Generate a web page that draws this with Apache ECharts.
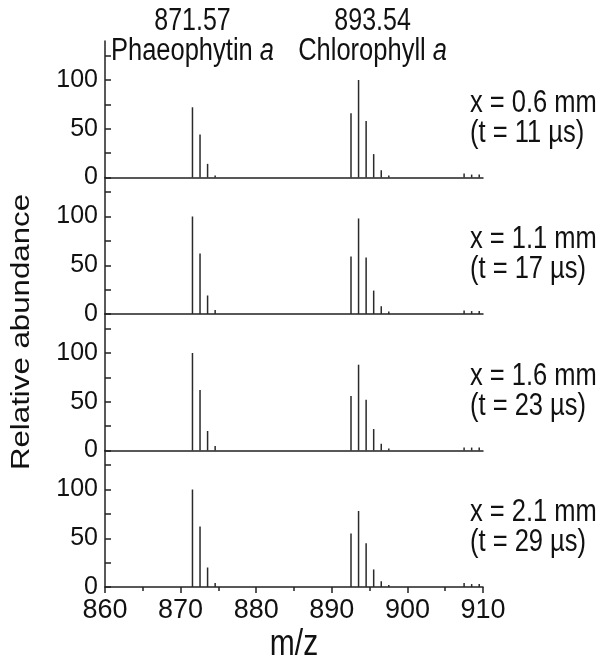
<!DOCTYPE html>
<html>
<head>
<meta charset="utf-8">
<script src="https://cdn.jsdelivr.net/npm/echarts@6/dist/echarts.min.js"></script>
<style>html,body{margin:0;padding:0;background:#fff}#c{width:604px;height:667px}</style>
</head>
<body>
<div id="c"></div>
<script>
// m/z positions of the sticks
const mz = [871.57, 872.57, 873.57, 874.57, 892.54, 893.54, 894.54, 895.54, 896.54, 897.54, 907.5, 908.5, 909.5];
// relative abundance per panel
const panel1 = [72, 44, 14, 2, 66, 100, 58, 24, 7.5, 2, 4, 3, 3];
const panel2 = [100, 62, 19, 4, 59, 98, 58, 24, 8, 2.5, 3.5, 3, 3];
const panel3 = [100, 62, 20, 4.5, 56, 88, 52, 22, 7, 2, 3, 3, 3];
const panel4 = [100, 62, 20, 4, 55, 78, 45, 18, 6, 2, 4, 3, 3];
const panels = [panel1, panel2, panel3, panel4];
const panelLabels = [
  ['x = 0.6 mm', '(t = 11 µs)'],
  ['x = 1.1 mm', '(t = 17 µs)'],
  ['x = 1.6 mm', '(t = 23 µs)'],
  ['x = 2.1 mm', '(t = 29 µs)']
];
const xTicks = [860, 870, 880, 890, 900, 910];
const yTicks = [0, 50, 100];
const yAllTicks = [0, 25, 50, 75, 100, 125];
const peakLabels = [
  { mz: 871.57, name: 'Phaeophytin' },
  { mz: 893.54, name: 'Chlorophyll' }
];

const FONT = 'Liberation Sans, Arial, sans-serif';
const STRETCH = 1.25;
const chart = echarts.init(document.getElementById('c'));

const tops = [41, 177.5, 314, 450.5];
const H = 136.5;
const LEFT = 105, WIDTH = 378;

const grids = [], xAxes = [], yAxes = [], series = [], graphics = [];
panels.forEach((vals, i) => {
  const last = i === panels.length - 1;
  grids.push({ left: LEFT, width: WIDTH, top: tops[i], height: H });
  xAxes.push({
    type: 'value', gridIndex: i, min: 860, max: 910, interval: 10,
    axisLine: { show: true, onZero: false, lineStyle: { color: '#222', width: 1.5 } },
    axisTick: { show: last, inside: false, length: 6, lineStyle: { color: '#222', width: 1.5 } },
    minorTick: { show: last, splitNumber: 2, length: 4, lineStyle: { color: '#222', width: 1.5 } },
    axisLabel: { show: last, fontFamily: FONT, fontSize: 27, color: '#111', margin: 10,
      customValues: xTicks },
    splitLine: { show: false }
  });
  yAxes.push({
    type: 'value', gridIndex: i, min: 0, max: 140, position: 'left',
    axisLine: { show: true, onZero: false, lineStyle: { color: '#222', width: 1.5 } },
    axisTick: { show: true, inside: true, length: 6, customValues: yAllTicks, lineStyle: { color: '#222', width: 1.5 } },
    axisLabel: { fontFamily: FONT, fontSize: 25, color: '#111', margin: 7, customValues: yTicks },
    splitLine: { show: false }
  });
  series.push({
    type: 'bar', xAxisIndex: i, yAxisIndex: i, barWidth: 1.5,
    itemStyle: { color: '#2a2a2a' }, silent: true, animation: false,
    data: mz.map((m, k) => [m, vals[k]])
  });
  const midY = tops[i] + H * 0.49;
  graphics.push({ type: 'text', x: 470, y: midY - 5, scaleY: STRETCH,
    style: { text: panelLabels[i][0], font: '25.5px ' + FONT, fill: '#111', verticalAlign: 'middle' } });
  graphics.push({ type: 'text', x: 470, y: midY + 25, scaleY: STRETCH,
    style: { text: panelLabels[i][1], font: '25.5px ' + FONT, fill: '#111', verticalAlign: 'middle' } });
});

graphics.push({ type: 'text', x: 22, y: 332, rotation: Math.PI / 2, scaleX: STRETCH,
  style: { text: 'Relative abundance', font: '25px ' + FONT, fill: '#111', align: 'center', verticalAlign: 'middle' } });
graphics.push({ type: 'text', x: 294, y: 645, scaleY: STRETCH,
  style: { text: 'm/z', font: '30px ' + FONT, fill: '#111', align: 'center', verticalAlign: 'middle' } });

const option = {
  animation: false,
  grid: grids, xAxis: xAxes, yAxis: yAxes, series: series,
  graphic: graphics
};
chart.setOption(option);

// peak annotations placed from the x scale
const labelShift = [0, 14];
peakLabels.forEach((p, k) => {
  const px = chart.convertToPixel({ xAxisIndex: 0, yAxisIndex: 0 }, [p.mz, 0])[0] + labelShift[k];
  graphics.push({ type: 'text', x: px, y: 21, scaleY: STRETCH,
    style: { text: p.mz.toFixed(2), font: '25px ' + FONT, fill: '#111', align: 'center', verticalAlign: 'middle' } });
  graphics.push({ type: 'text', x: px, y: 51, scaleY: STRETCH,
    style: { text: '{n|' + p.name + ' }{i|a}', align: 'center', verticalAlign: 'middle',
      rich: { n: { font: '25.5px ' + FONT, fill: '#111' }, i: { font: 'italic 25.5px ' + FONT, fill: '#111' } } } });
});
chart.setOption({ graphic: graphics });
</script>
</body>
</html>
